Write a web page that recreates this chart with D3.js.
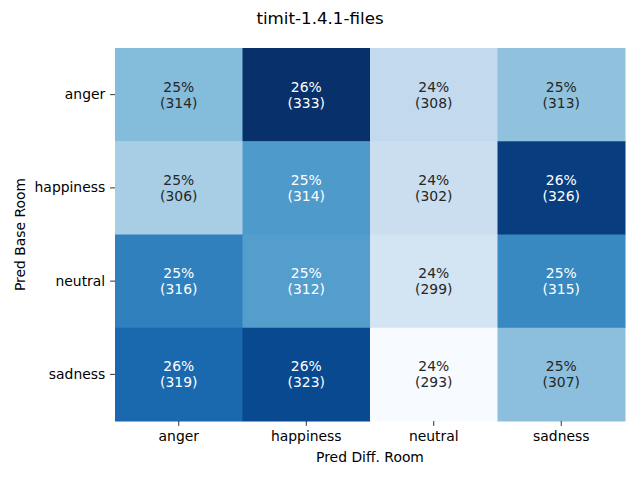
<!DOCTYPE html>
<html>
<head>
<meta charset="utf-8">
<script src="https://cdn.jsdelivr.net/npm/d3@7"></script>
<style>
  html, body { margin: 0; padding: 0; background: #fff; }
  svg { display: block; font-family: "DejaVu Sans", sans-serif; }
</style>
</head>
<body>
<svg id="chart" width="640" height="480"></svg>
<script>
const title = "timit-1.4.1-files";
const rowLabels = ["anger", "happiness", "neutral", "sadness"];
const colLabels = ["anger", "happiness", "neutral", "sadness"];
const xLabel = "Pred Diff. Room";
const yLabel = "Pred Base Room";
const rowAnger = [314, 333, 308, 313];
const rowHappiness = [306, 314, 302, 326];
const rowNeutral = [316, 312, 299, 315];
const rowSadness = [319, 323, 293, 307];
const counts = [rowAnger, rowHappiness, rowNeutral, rowSadness];
const bluesPalette = ["#f7fbff","#deebf7","#c6dbef","#9ecae1","#6baed6","#4292c6","#2171b5","#08519c","#08306b"];

const svg = d3.select("#chart");
const margin = {left: 115, right: 15, top: 48, bottom: 59};
const W = 640, H = 480;
const plotW = W - margin.left - margin.right;
const plotH = H - margin.top - margin.bottom;

const cells = [];
counts.forEach((row, i) => {
  const total = d3.sum(row);
  row.forEach((v, j) => cells.push({r: rowLabels[i], c: colLabels[j], v, p: v / total}));
});

const x = d3.scaleBand().domain(colLabels).range([margin.left, margin.left + plotW]);
const y = d3.scaleBand().domain(rowLabels).range([margin.top, margin.top + plotH]);
const [pmin, pmax] = d3.extent(cells, d => d.p);
const t = d3.scaleLinear().domain([pmin, pmax]).range([0, 1]);
const color = d3.scaleLinear()
  .domain(d3.range(bluesPalette.length).map(k => k / (bluesPalette.length - 1)))
  .range(bluesPalette).interpolate(d3.interpolateRgb).clamp(true);

function lum(c) {
  const rgb = d3.rgb(c);
  const f = v => { v /= 255; return v <= 0.03928 ? v / 12.92 : Math.pow((v + 0.055) / 1.055, 2.4); };
  return 0.2126 * f(rgb.r) + 0.7152 * f(rgb.g) + 0.0722 * f(rgb.b);
}

const g = svg.append("g");
g.selectAll("rect").data(cells).join("rect")
  .attr("x", d => x(d.c)).attr("y", d => y(d.r))
  .attr("width", x.bandwidth() + 0.5).attr("height", y.bandwidth() + 0.5)
  .attr("fill", d => color(t(d.p)));

const txt = g.selectAll("text.ann").data(cells).join("text")
  .attr("class", "ann")
  .attr("text-anchor", "middle")
  .attr("font-size", "13.9px")
  .attr("fill", d => lum(color(t(d.p))) > 0.408 ? "#262626" : "#ffffff");
txt.append("tspan")
  .attr("x", d => x(d.c) + x.bandwidth() / 2)
  .attr("y", d => y(d.r) + y.bandwidth() / 2 - 3)
  .text(d => Math.round(d.p * 100) + "%");
txt.append("tspan")
  .attr("x", d => x(d.c) + x.bandwidth() / 2)
  .attr("y", d => y(d.r) + y.bandwidth() / 2 + 13)
  .text(d => "(" + d.v + ")");

// axes
const xAxis = d3.axisBottom(x).tickSize(4.9).tickPadding(4.9);
const yAxis = d3.axisLeft(y).tickSize(4.9).tickPadding(4.9);
const gx = svg.append("g").attr("transform", `translate(0,${margin.top + plotH})`).call(xAxis);
const gy = svg.append("g").attr("transform", `translate(${margin.left},0)`).call(yAxis);
[gx, gy].forEach(a => {
  a.select(".domain").remove();
  a.selectAll(".tick line").attr("stroke", "#000").attr("stroke-width", 0.8);
  a.selectAll(".tick text").attr("font-size", "13.9px").attr("fill", "#000")
    .attr("font-family", "DejaVu Sans, sans-serif");
});

svg.append("text").attr("x", margin.left + plotW / 2).attr("y", 462)
  .attr("text-anchor", "middle").attr("font-size", "13.9px").text(xLabel);
svg.append("text")
  .attr("transform", `translate(25,${margin.top + plotH / 2}) rotate(-90)`)
  .attr("text-anchor", "middle").attr("font-size", "13.9px").text(yLabel);
svg.append("text").attr("x", W / 2).attr("y", 24)
  .attr("text-anchor", "middle").attr("font-size", "16.7px").text(title);
</script>
</body>
</html>
